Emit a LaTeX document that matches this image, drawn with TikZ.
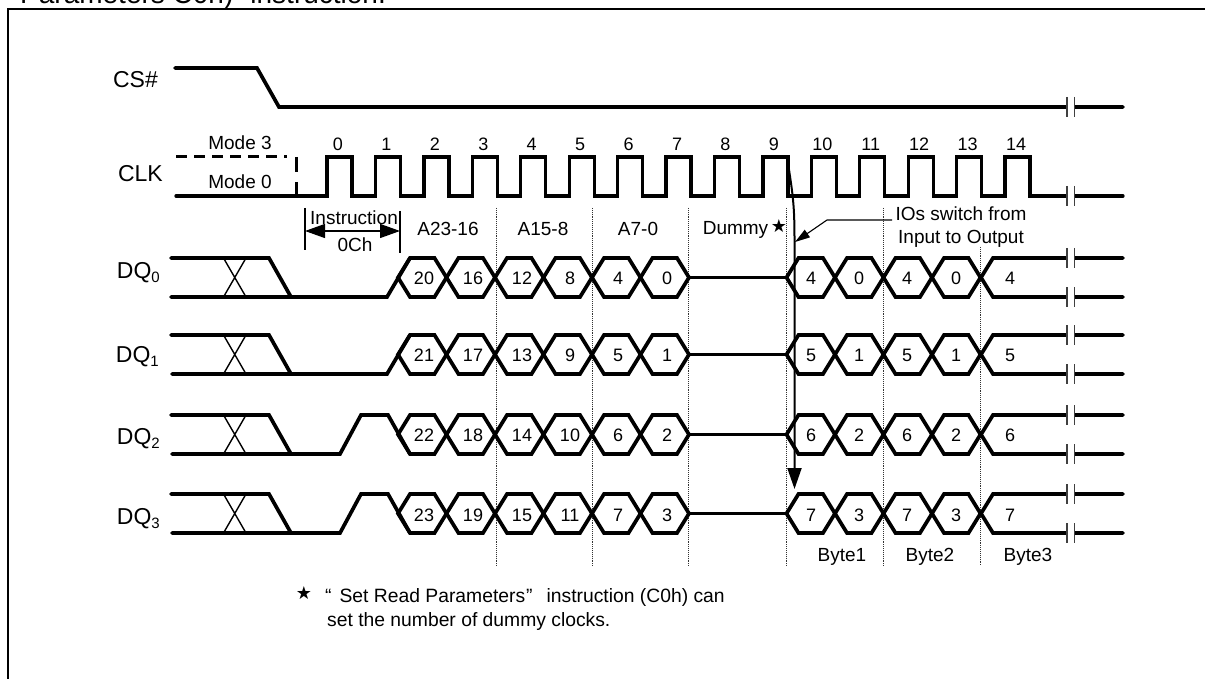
\documentclass[tikz,border=0pt]{standalone}
\usepackage{fontspec}
\setmainfont{Liberation Sans}
\newfontfamily\symfont{DejaVu Sans}
\usetikzlibrary{arrows.meta}
\tikzset{
  x=1pt,y=-1pt,
  wave/.style={line width=3.7pt,line cap=butt,line join=miter},
  wavend/.style={line width=3.7pt,line cap=round,line join=miter},
  thin line/.style={line width=1.4pt},
  breakbar/.style={line width=1.4pt,draw=black!75},
  grid line/.style={line width=0.9pt,densely dotted,draw=black!80},
  lab/.style={inner sep=0pt,font=\fontsize{19}{22}\selectfont,text height=13.7pt,text depth=0pt},
  dig/.style={inner sep=0pt,font=\fontsize{18}{22}\selectfont,text height=13pt,text depth=0pt},
  sig/.style={inner sep=0pt,anchor=east,font=\fontsize{23}{26}\selectfont,text height=16.5pt,text depth=0pt},
  notetext/.style={inner sep=0pt,anchor=base west,font=\fontsize{19.3}{22}\selectfont},
}
\newcommand{\brk}[1]{% break symbol at row y
  \fill[white] (1067,#1-4) rectangle (1074,#1+4);
  \draw[breakbar] (1067,#1-10) -- (1067,#1+10);
  \draw[breakbar] (1074.5,#1-10) -- (1074.5,#1+10);
}
\newcommand{\bushex}[3]{% top, bottom, tip x
  \pgfmathsetmacro{\mymid}{(#1+#2)/2}
  \draw[wave] (#3,\mymid) -- (#3+12,#1) -- (#3+36.5,#1) -- (#3+48.5,\mymid) -- (#3+36.5,#2) -- (#3+12,#2) -- cycle;
}
\newcommand{\busrow}[2]{% top, bottom: hexagons, hold line, trailing lines
  \pgfmathsetmacro{\mymidr}{(#1+#2)/2}
  \foreach \t in {398,446.5,495,543.5,592,640.5,786.5,835,883.5,932}{\bushex{#1}{#2}{\t}}
  \draw[wave] (688.5,\mymidr) -- (786.5,\mymidr);
  \draw[wavend] (1123,#1) -- (993,#1) -- (981,\mymidr) -- (993,#2) -- (1123,#2);
  \brk{#1}\brk{#2}
  % unknown-state start
  \draw[wavend] (171,#1) -- (269,#1) -- (291,#2);
  \draw[thin line] (223.5,#1) -- (246,#2) (246,#1) -- (223.5,#2);
}
\newcommand{\dqsub}[1]{\raisebox{-4pt}{\fontsize{15}{16}\selectfont #1}}
\begin{document}
\begin{tikzpicture}
\useasboundingbox (0,0) rectangle (1205,679);
\clip (0,0) rectangle (1205,679);
\fill[white] (0,0) rectangle (1205,679);
% cut-off caption above the frame
\node[inner sep=0pt,anchor=base west,font=\fontsize{28}{30}\selectfont] (caption) at (20,4) {Parameters C0h)” instruction.};
% frame
\draw[line width=1.1pt] (8,690) -- (8,9) -- (1215,9);
% dotted guides
\foreach \x in {496,592,688.5,786.5,883}{\draw[grid line] (\x,208) -- (\x,566);}
\draw[grid line] (980.5,247) -- (980.5,566);
% CS#
\node[sig] (csl) at (158,79) {CS\#};
\draw[wavend] (175,68) -- (257,68) -- (279,107) -- (1123,107);
\brk{107}
% CLK
\node[sig] (clkl) at (163,173) {CLK};
\node[lab] (m3) at (240,143) {Mode 3};
\node[lab] (m0) at (240,182) {Mode 0};
\draw[wavend,dash pattern=on 11pt off 7pt,line cap=butt,line width=3pt] (176,157) -- (287,157);
\draw[wave,line width=3pt,dash pattern=on 15pt off 10pt] (296,157) -- (296,196);
\draw[wavend,line width=3.3pt] (176,196) -- (327,196) -- (327,157) -- (352,157) -- (352,196)
  \foreach \i in {1,...,14}{ -- ({327+48.43*\i},196) -- ({327+48.43*\i},157) -- ({352+48.43*\i},157) -- ({352+48.43*\i},196)} -- (1123,196);
\brk{196}
\foreach \n in {0,...,14}{\node[dig] (clk\n) at ({338+48.43*\n},144) {\n};}
% Instruction dimension
\coordinate (il) at (305,231);\coordinate (ir) at (400,231);
\draw[line width=1.3pt] (305,208) -- (305,250) (400,211) -- (400,253);
\draw[line width=1.3pt,{Triangle[length=20pt,width=14pt]}-{Triangle[length=20pt,width=14pt]}] (il) -- (ir);
\node[lab] (instr) at (354,218) {Instruction};
\node[lab] (och) at (355,245) {0Ch};
% field labels
\node[lab] (f1) at (448,229) {A23-16};
\node[lab] (f2) at (543,229) {A15-8};
\node[lab] (f3) at (638,229) {A7-0};
\node[lab] (f4) at (735.5,228) {Dummy};
\node[inner sep=0pt,font=\symfont\fontsize{18}{20}\selectfont] (f4s) at (779,226) {★};
\node[lab] (b1) at (842,555) {Byte1};
\node[lab] (b2) at (930,555) {Byte2};
\node[lab] (b3) at (1028,555) {Byte3};
% data rows
\busrow{258}{297}
\draw[wavend] (171,297) -- (387,297) -- (410,258);
\node[sig] (dq0) at (160,270) {DQ\dqsub{0}};
\busrow{335}{374}
\draw[wavend] (172,374) -- (387,374) -- (410,335);
\node[sig] (dq1) at (159,354) {DQ\dqsub{1}};
\busrow{415}{454}
\draw[wavend] (172,454) -- (340,454) -- (361,415) -- (388,415) -- (410,454);
\node[sig] (dq2) at (160,436) {DQ\dqsub{2}};
\busrow{494}{533}
\draw[wavend] (172,533) -- (340,533) -- (361,494) -- (388,494) -- (410,533);
\node[sig] (dq3) at (160,516) {DQ\dqsub{3}};
% numbers inside the bus
\foreach \y/\a/\b/\c/\d/\e/\f/\g/\h in {278/20/16/12/8/4/0/4/0,355/21/17/13/9/5/1/5/1,435/22/18/14/10/6/2/6/2,515/23/19/15/11/7/3/7/3}{
  \node[dig] (a\a) at (424,\y) {\a};
  \node[dig] (a\b) at (473,\y) {\b};
  \node[dig] (a\c) at (522,\y) {\c};
  \node[dig] (a\d) at (570,\y) {\d};
  \node[dig] (a\e) at (618,\y) {\e};
  \node[dig] (a\f) at (667,\y) {\f};
  \node[dig] (o1\y) at (811,\y) {\g};
  \node[dig] (o2\y) at (859,\y) {\h};
  \node[dig] (o3\y) at (907,\y) {\g};
  \node[dig] (o4\y) at (956,\y) {\h};
  \node[dig] (o5\y) at (1010,\y) {\g};
}
% switch arrow
\coordinate (sw0) at (787,157);\coordinate (sw1) at (794.5,489);
\draw[line width=2pt,-{Triangle[length=21pt,width=14pt]}] (sw0) .. controls (793,195) and (794.5,205) .. (794.5,240) -- (sw1);
% callout
\node[lab] (io1) at (961,214) {IOs switch from};
\node[lab] (io2) at (961,237) {Input to Output};
\coordinate (cal) at (827,220);\coordinate (cat) at (795,242);
\draw[line width=1.1pt,-{Triangle[length=15pt,width=9pt]}] (892,220) -- (cal) -- (cat);
% note
\node[inner sep=0pt,font=\symfont\fontsize{18}{20}\selectfont] (ns) at (304,593) {★};
\node[notetext] (n1) at (325,602) {“\kern8pt Set Read Parameters\kern1pt”\kern14pt instruction (C0h) can};
\node[notetext] (n2) at (327,626) {set the number of dummy clocks.};
\end{tikzpicture}
\end{document}
